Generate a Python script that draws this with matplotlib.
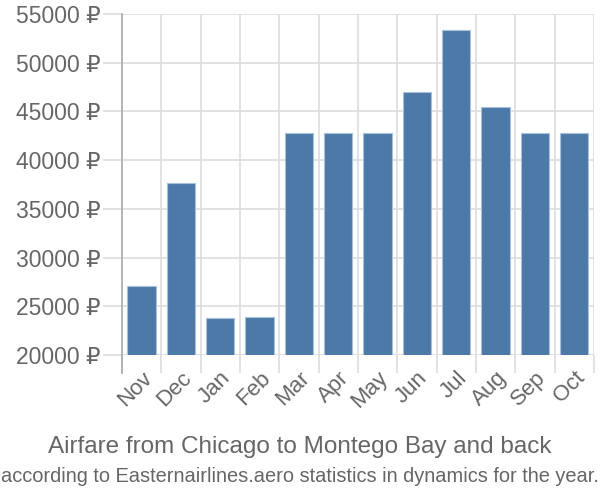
import matplotlib
matplotlib.use('Agg')
import matplotlib.pyplot as plt
import numpy as np
from matplotlib.ticker import FuncFormatter

months = ['Nov', 'Dec', 'Jan', 'Feb', 'Mar', 'Apr', 'May', 'Jun', 'Jul', 'Aug', 'Sep', 'Oct']
prices = [27100, 37650, 23800, 23900, 42800, 42800, 42800, 47000, 53350, 45450, 42800, 42800]
y_ticks = [20000, 25000, 30000, 35000, 40000, 45000, 50000, 55000]

def main():
    plt.rcParams['font.family'] = ['Liberation Sans', 'DejaVu Sans']
    fig = plt.figure(figsize=(6, 5), dpi=100)
    ax = fig.add_axes([0.203, 0.29, 0.787, 0.682])
    x = np.arange(len(months))
    ax.bar(x, prices, width=0.72, bottom=0, color='#4d79a8', edgecolor='#a9c0dc', linewidth=0.8, zorder=3)
    ax.set_xlim(-0.5, len(months) - 0.5)
    ax.set_ylim(20000, 55000)
    ax.set_yticks(y_ticks)
    ax.yaxis.set_major_formatter(FuncFormatter(lambda v, p: f'{int(v)} \u20bd'))
    ax.set_xticks(x)
    ax.set_xticklabels(months, rotation=45, ha='right', rotation_mode='anchor')
    ax.set_xticks(np.arange(-0.5, len(months), 1), minor=True)
    ax.tick_params(axis='x', which='major', length=0, pad=9, labelsize=16, labelcolor='#666666')
    ax.tick_params(axis='x', which='minor', length=13, width=1.2, color='#dddddd')
    ax.tick_params(axis='y', length=14, width=1.2, color='#dddddd', pad=1, labelsize=16.5, labelcolor='#666666')
    ax.grid(axis='y', color='#dddddd', lw=1.2, zorder=0)
    ax.grid(axis='x', which='minor', color='#dddddd', lw=1.2, zorder=0)
    for s in ['top', 'right', 'bottom']:
        ax.spines[s].set_visible(False)
    ax.spines['left'].set_color('#aaaaaa')
    ax.spines['left'].set_linewidth(1.2)
    ax.spines['left'].set_bounds(18150, 55000)
    fig.text(0.5, 0.093, 'Airfare from Chicago to Montego Bay and back', ha='center', fontsize=17.5, color='#666666')
    fig.text(0.5, 0.035, 'according to Easternairlines.aero statistics in dynamics for the year.', ha='center', fontsize=14.4, color='#666666')
    fig.savefig('out.png', dpi=100)
    plt.close(fig)

if __name__ == '__main__':
    main()
